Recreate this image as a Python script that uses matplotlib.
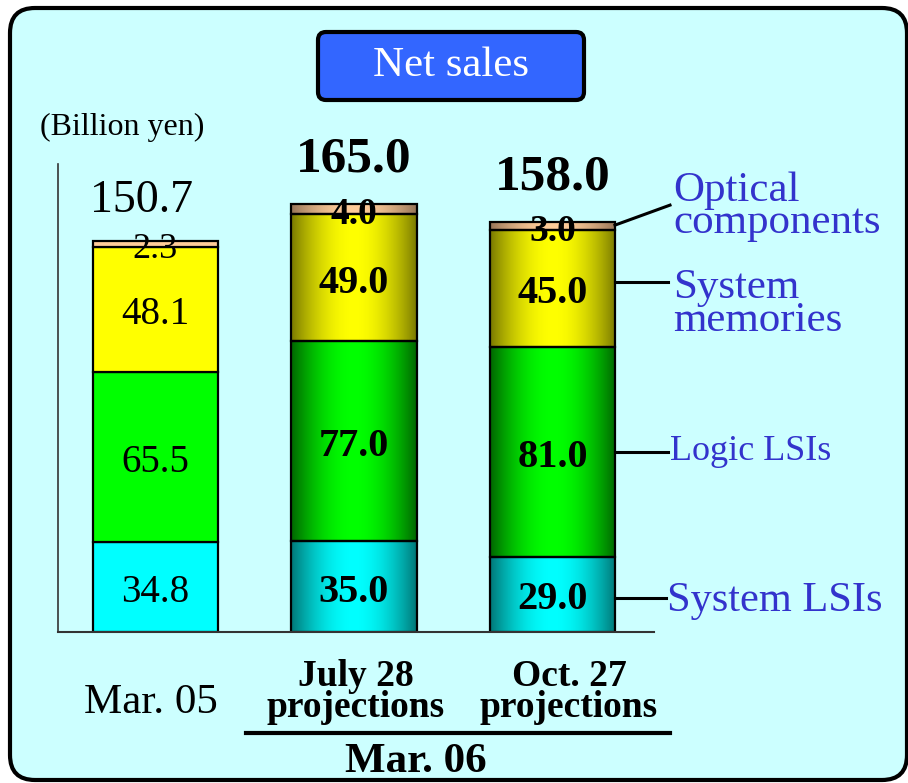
import numpy as np
import matplotlib
matplotlib.use('Agg')
import matplotlib.pyplot as plt
from matplotlib.patches import FancyBboxPatch
from matplotlib.colors import to_rgb

plt.rcParams['font.family'] = ['Liberation Serif', 'DejaVu Serif']

# Dados (bilhões de ienes)
periodos = ['Mar. 05', 'July 28\nprojections', 'Oct. 27\nprojections']
segmentos = ['System LSIs', 'Logic LSIs', 'System\nmemories', 'Optical\ncomponents']
system_lsis = [34.8, 35.0, 29.0]
logic_lsis = [65.5, 77.0, 81.0]
system_memories = [48.1, 49.0, 45.0]
optical = [2.3, 4.0, 3.0]
totais = [150.7, 165.0, 158.0]

series = [system_lsis, logic_lsis, system_memories, optical]
cores = ['#00ffff', '#00ff00', '#ffff00', '#ffcc99']
cores_escuras = ['#007575', '#006400', '#787800', '#957357']
azul = '#3333cc'

W, H = 908, 783
fig = plt.figure(figsize=(W / 100, H / 100), dpi=100)
fig.patch.set_facecolor('white')

# Função para converter pixels em polegadas
def pol(x, y):
    return x / 100, (H - y) / 100

# moldura arredondada
x0, y0 = pol(10, 780)
moldura = FancyBboxPatch((x0 + 0.25, y0 + 0.25), (907 - 10) / 100 - 0.5, (780 - 8) / 100 - 0.5,
                         boxstyle='round,pad=0.25', transform=fig.dpi_scale_trans,
                         facecolor='#ccffff', edgecolor='black', linewidth=3, zorder=-2)
fig.patches.append(moldura)

# caixa do título
tx, ty = pol(318, 100)
caixa = FancyBboxPatch((tx + 0.08, ty + 0.08), 2.66 - 0.16, 0.68 - 0.16,
                       boxstyle='round,pad=0.08', transform=fig.dpi_scale_trans,
                       facecolor='#3366ff', edgecolor='black', linewidth=3, zorder=-1)
fig.patches.append(caixa)
fig.text(451 / W, 1 - 66 / H, 'Net sales', color='white', fontsize=31,
         ha='center', va='center', zorder=2)

fig.text(40 / W, 1 - 127 / H, '(Billion yen)', fontsize=23, ha='left', va='center')

# eixos
esq, base, topo, dir_ = 58, 632, 164, 654
ax = fig.add_axes([esq / W, 1 - base / H, (dir_ - esq) / W, (base - topo) / H])
ax.set_facecolor('none')
passo = 198.5
xmin = -(155.5 - esq) / passo
xmax = xmin + (dir_ - esq) / passo
ymax = (base - topo) / 2.595

x = np.arange(len(periodos))
largura = 0.63
fundo = np.zeros(len(periodos))
for s, serie in enumerate(series):
    cont = ax.bar(x, serie, largura, bottom=fundo, color=cores[s],
                  edgecolor='black', linewidth=1.6, zorder=2)
    for i, ret in enumerate(cont):
        if i > 0:
            # gradiente horizontal nas projeções
            ret.set_facecolor('none')
            u = np.linspace(0, 1, 200)
            t = np.sin(np.pi * u) ** 0.9
            c1 = np.array(to_rgb(cores_escuras[s]))
            c2 = np.array(to_rgb(cores[s]))
            img = (c1[None, :] * (1 - t[:, None]) + c2[None, :] * t[:, None])[None, :, :]
            xb = ret.get_x()
            im = ax.imshow(img, extent=[xb, xb + largura, fundo[i], fundo[i] + serie[i]],
                           aspect='auto', interpolation='bilinear', zorder=1)
            im.set_clip_path(ret)
        if i == 0:
            peso, tam = 'normal', (26 if s == 3 else 28)
        else:
            peso, tam = 'bold', (27 if s == 3 else 29)
        ax.annotate('%.1f' % serie[i], (x[i], fundo[i] + serie[i] / 2), xytext=(0, -4),
                    textcoords='offset points', ha='center', va='center',
                    fontsize=tam, fontweight=peso, zorder=4)
    fundo = fundo + np.array(serie)

for i, tot in enumerate(totais):
    if i == 0:
        ax.text(x[i] - 0.07, tot + 15.5, '%.1f' % tot, ha='center', va='center',
                fontsize=33, zorder=4)
    else:
        ax.text(x[i], tot + 17, '%.1f' % tot, ha='center', va='center', fontsize=37,
                fontweight='bold', zorder=4)

ax.set_xlim(xmin, xmax)
ax.set_ylim(0, ymax)
for lado in ['top', 'right']:
    ax.spines[lado].set_visible(False)
ax.spines['left'].set_color('#333333')
ax.spines['left'].set_linewidth(1.2)
ax.spines['bottom'].set_color('#333333')
ax.spines['bottom'].set_linewidth(1.5)
ax.set_xticks([])
ax.set_yticks([])

# rótulos das séries com linhas de chamada (barra de Oct. 27)
def px_x(p):
    return xmin + (p - esq) / passo

borda_dir = x[2] + largura / 2
y_inicio = [13.1, 69.4, 134.9, 156.8]
fim_linha = [px_x(666), px_x(668), px_x(668), px_x(670)]
y_fim = [13.1, 69.4, 134.9, 164.5]
x_rot = [667, 670, 673, 673]
y_rot = [11.9, 69.4, 126.3, 163.8]
tam_rot = [30.5, 26, 31, 31]
esp_rot = [1, 1, 0.84, 0.8]
for s in range(len(segmentos)):
    ax.plot([borda_dir, fim_linha[s]], [y_inicio[s], y_fim[s]], color='black', lw=2.2,
            clip_on=False, zorder=3)
    ax.text(px_x(x_rot[s]), y_rot[s], segmentos[s], color=azul, fontsize=tam_rot[s],
            ha='left', va='center', linespacing=esp_rot[s], clip_on=False)

# rótulos das categorias
fig.text(151 / W, 1 - 703 / H, periodos[0], fontsize=31, ha='center', va='center')
fig.text(356 / W, 1 - 692 / H, periodos[1], fontsize=27, fontweight='bold',
         ha='center', va='center', linespacing=0.83)
fig.text(569 / W, 1 - 692 / H, periodos[2], fontsize=27, fontweight='bold',
         ha='center', va='center', linespacing=0.83)
fig.add_artist(plt.Line2D([246 / W, 670 / W], [1 - 733 / H, 1 - 733 / H],
                          color='black', lw=3, transform=fig.transFigure))
fig.text(416 / W, 1 - 762 / H, 'Mar. 06', fontsize=31, fontweight='bold',
         ha='center', va='center')

fig.savefig('out.png', dpi=100)
